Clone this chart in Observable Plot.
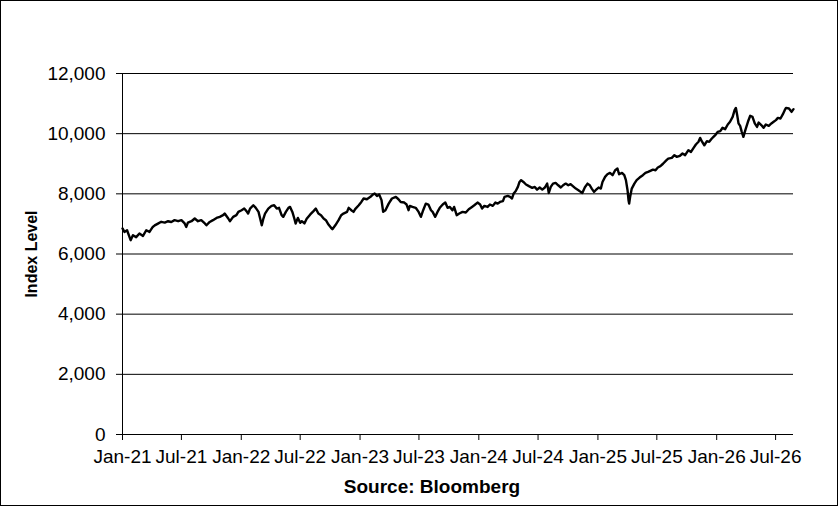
<!DOCTYPE html>
<html>
<head>
<meta charset="utf-8">
<script src="https://cdn.jsdelivr.net/npm/d3@7"></script>
<script src="https://cdn.jsdelivr.net/npm/@observablehq/plot@0.6"></script>
<style>
  html, body { margin: 0; padding: 0; background: #fff; }
  #chart svg { display: block; }
</style>
</head>
<body>
<div id="chart"></div>
<script>
const dates = [
"2021-01-01","2021-01-07","2021-01-15","2021-01-26","2021-02-02","2021-02-12","2021-02-22","2021-03-05","2021-03-15","2021-03-25",
"2021-04-04","2021-04-10","2021-04-20","2021-04-30","2021-05-11","2021-05-21","2021-05-31","2021-06-10","2021-06-21","2021-07-01",
"2021-07-11","2021-07-16","2021-07-21","2021-08-01","2021-08-11","2021-08-21","2021-08-31","2021-09-11","2021-09-16","2021-09-26",
"2021-10-06","2021-10-17","2021-10-27","2021-11-06","2021-11-11","2021-11-22","2021-11-27","2021-12-07","2021-12-17","2021-12-23",
"2022-01-02","2022-01-10","2022-01-17","2022-01-22","2022-01-28","2022-02-07","2022-02-14","2022-02-23","2022-02-28","2022-03-05",
"2022-03-10","2022-03-15","2022-03-25","2022-04-04","2022-04-12","2022-04-20","2022-04-27","2022-05-05","2022-05-10","2022-05-18",
"2022-05-26","2022-05-31","2022-06-07","2022-06-13","2022-06-17","2022-06-24","2022-07-01","2022-07-06","2022-07-14","2022-07-21",
"2022-08-01","2022-08-11","2022-08-18","2022-08-26","2022-09-03","2022-09-11","2022-09-18","2022-09-26","2022-10-04","2022-10-08",
"2022-10-17","2022-10-27","2022-11-04","2022-11-11","2022-11-22","2022-11-27","2022-12-05","2022-12-12","2022-12-17","2022-12-28",
"2023-01-05","2023-01-12","2023-01-22","2023-02-02","2023-02-09","2023-02-15","2023-02-22","2023-03-01","2023-03-08","2023-03-13",
"2023-03-20","2023-03-30","2023-04-09","2023-04-21","2023-04-29","2023-05-06","2023-05-17","2023-05-24","2023-05-30","2023-06-03",
"2023-06-11","2023-06-21","2023-06-30","2023-07-07","2023-07-14","2023-07-22","2023-07-30","2023-08-07","2023-08-12","2023-08-20",
"2023-08-27","2023-09-03","2023-09-12","2023-09-20","2023-09-27","2023-10-04","2023-10-12","2023-10-17","2023-10-25","2023-11-02",
"2023-11-12","2023-11-22","2023-12-01","2023-12-11","2023-12-18","2023-12-28","2024-01-05","2024-01-11","2024-01-18","2024-01-28",
"2024-02-04","2024-02-13","2024-02-21","2024-02-28","2024-03-06","2024-03-15","2024-03-20","2024-03-30","2024-04-06","2024-04-12",
"2024-04-17","2024-04-23","2024-04-30","2024-05-05","2024-05-10","2024-05-17","2024-05-25","2024-06-03","2024-06-13","2024-06-21",
"2024-06-28","2024-07-06","2024-07-14","2024-07-22","2024-07-29","2024-08-03","2024-08-09","2024-08-16","2024-08-24","2024-09-01",
"2024-09-09","2024-09-16","2024-09-24","2024-10-02","2024-10-09","2024-10-16","2024-10-25","2024-11-02","2024-11-09","2024-11-14",
"2024-11-22","2024-11-30","2024-12-07","2024-12-13","2024-12-20","2024-12-25","2025-01-03","2025-01-10","2025-01-15","2025-01-23",
"2025-01-30","2025-02-07","2025-02-15","2025-02-23","2025-03-02","2025-03-07","2025-03-16","2025-03-23","2025-03-28","2025-04-02",
"2025-04-05","2025-04-07","2025-04-10","2025-04-15","2025-04-23","2025-04-30","2025-05-09","2025-05-19","2025-05-27","2025-06-04",
"2025-06-11","2025-06-19","2025-06-27","2025-07-04","2025-07-12","2025-07-20","2025-07-30","2025-08-05","2025-08-16","2025-08-24",
"2025-08-31","2025-09-10","2025-09-18","2025-09-26","2025-10-06","2025-10-14","2025-10-22","2025-10-29","2025-11-06","2025-11-11",
"2025-11-16","2025-11-24","2025-12-02","2025-12-09","2025-12-17","2025-12-22","2025-12-29","2026-01-04","2026-01-12","2026-01-19",
"2026-01-27","2026-02-04","2026-02-11","2026-02-19","2026-02-25","2026-03-01","2026-03-05","2026-03-09","2026-03-14","2026-03-19",
"2026-03-24","2026-03-30","2026-04-07","2026-04-14","2026-04-21","2026-04-28","2026-05-05","2026-05-10","2026-05-18","2026-05-25",
"2026-06-01","2026-06-10","2026-06-18","2026-06-25","2026-07-02","2026-07-08","2026-07-16","2026-07-23","2026-07-29","2026-08-02",
"2026-08-11","2026-08-19","2026-08-25"
];
const values = [
6850,6735,6790,6460,6625,6560,6680,6600,6790,6735,
6900,6950,7010,7070,7045,7090,7065,7125,7090,7125,
7015,6900,7045,7090,7180,7090,7125,7015,6955,7065,
7125,7200,7235,7290,7345,7180,7090,7235,7290,7400,
7455,7510,7425,7345,7510,7620,7540,7400,7180,6955,
7180,7345,7510,7600,7620,7510,7535,7290,7235,7400,
7535,7565,7400,7180,7015,7200,7035,7090,7015,7170,
7315,7425,7510,7345,7290,7180,7125,6980,6870,6825,
6955,7125,7290,7345,7400,7535,7455,7400,7490,7620,
7730,7845,7820,7900,7975,8010,7930,7975,7790,7400,
7455,7675,7845,7900,7820,7730,7710,7645,7455,7600,
7565,7535,7400,7235,7455,7675,7645,7455,7400,7235,
7400,7535,7645,7710,7535,7565,7455,7565,7290,7345,
7400,7380,7490,7565,7620,7710,7645,7510,7600,7565,
7645,7600,7710,7675,7730,7755,7900,7930,7900,7845,
8010,8085,8230,8395,8455,8395,8310,8255,8200,8230,
8140,8210,8140,8210,8340,8030,8230,8340,8365,8285,
8210,8285,8340,8285,8320,8255,8175,8120,8065,8030,
8220,8340,8285,8175,8065,8120,8210,8175,8395,8565,
8650,8695,8620,8785,8840,8650,8695,8620,8455,8120,
7790,7680,7900,8175,8340,8455,8540,8620,8695,8730,
8765,8805,8785,8875,8920,9000,9110,9170,9195,9285,
9230,9265,9340,9285,9450,9395,9530,9640,9730,9860,
9750,9615,9750,9730,9840,9895,9970,10060,10085,10195,
10150,10305,10395,10560,10780,10855,10615,10340,10260,10060,
9895,10115,10395,10595,10560,10340,10225,10370,10285,10195,
10305,10260,10340,10395,10450,10525,10505,10640,10780,10855,
10835,10725,10815
];
const yTicks = [0, 2000, 4000, 6000, 8000, 10000, 12000];
const xStart = "2021-01-01";
const xEnd = "2026-08-25";
const yLabel = "Index Level";
const sourceText = "Source: Bloomberg";

const parse = d3.utcParse("%Y-%m-%d");
const data = dates.map((d, i) => ({date: parse(d), value: values[i]}));
const x0 = parse(xStart), x1 = parse(xEnd);
const xTicks = d3.utcMonth.every(6).range(x0, d3.utcDay.offset(x1, 1));

const chart = Plot.plot({
  width: 838,
  height: 506,
  marginLeft: 122,
  marginRight: 45,
  marginTop: 73,
  marginBottom: 72,
  style: {
    fontFamily: "Arial, 'Liberation Sans', sans-serif",
    fontSize: "19px",
    color: "black",
    background: "white",
    outline: "1px solid black",
    outlineOffset: "-1px"
  },
  x: {type: "utc", domain: [x0, x1]},
  y: {domain: [0, 12000]},
  marks: [
    Plot.gridY(yTicks.filter(t => t > 0), {stroke: "black", strokeOpacity: 1, strokeWidth: 1}),
    Plot.axisY({ticks: yTicks, tickFormat: d3.format(","), tickSize: 6, tickPadding: 11, label: null, stroke: "black"}),
    Plot.axisX({ticks: xTicks, tickFormat: d3.utcFormat("%b-%y"), tickSize: 6, tickPadding: 9, label: null, stroke: "black"}),
    Plot.ruleY([0], {stroke: "black"}),
    Plot.ruleX([x0], {stroke: "black"}),
    Plot.line(data, {x: "date", y: "value", stroke: "black", strokeWidth: 2.4, strokeLinejoin: "round"}),
    Plot.text([yLabel], {frameAnchor: "left", dx: -91, rotate: -90, fontSize: 16, fontWeight: "bold", fill: "black", textAnchor: "middle"}),
    Plot.text([sourceText], {frameAnchor: "bottom", dx: -26, dy: 58, fontSize: 19, fontWeight: "bold", fill: "black", textAnchor: "middle"})
  ]
});
document.getElementById("chart").appendChild(chart);
</script>
</body>
</html>
